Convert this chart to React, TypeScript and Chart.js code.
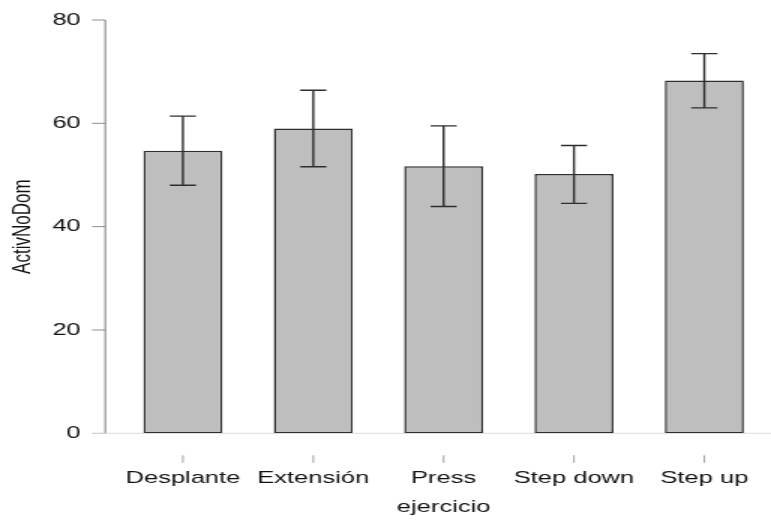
import React, { useEffect, useRef } from "react";
import { Chart, registerables } from "chart.js";

Chart.register(...registerables);

const categories: string[] = ["Desplante", "Extensión", "Press", "Step down", "Step up"];
const means: number[] = [54.7, 59.0, 51.7, 50.2, 68.3];
const lowerCI: number[] = [48.0, 51.6, 43.9, 44.5, 63.0];
const upperCI: number[] = [61.4, 66.4, 59.5, 55.7, 73.5];
const yTicks: number[] = [0, 20, 40, 60, 80];
const yTitle = "ActivNoDom";
const xTitle = "ejercicio";

const STRETCH = 1.5;
const CANVAS_W = Math.round(771 / STRETCH);
const CANVAS_H = 520;
const FONT = "'Liberation Sans', Arial, Helvetica, sans-serif";

const rAxesPlugin = {
  id: "rAxes",
  beforeDatasetsDraw(chart: any) {
    const { ctx, chartArea } = chart;
    const x = chart.scales.x;
    const y = chart.scales.y;
    const y0 = y.getPixelForValue(yTicks[0]);
    const yTop = y.getPixelForValue(yTicks[yTicks.length - 1]);
    const axisX = chartArea.left - 8.3;
    const tickLen = 8.9;
    ctx.save();
    // zero baseline
    ctx.strokeStyle = "#dcdcdc";
    ctx.lineWidth = 1;
    ctx.beginPath();
    ctx.moveTo(axisX - tickLen, y0);
    ctx.lineTo(chart.width, y0);
    ctx.stroke();
    // y axis line
    ctx.strokeStyle = "#8f8f8f";
    ctx.lineWidth = 1.2;
    ctx.beginPath();
    ctx.moveTo(axisX, yTop);
    ctx.lineTo(axisX, y0);
    ctx.stroke();
    // y ticks
    ctx.lineWidth = 1;
    yTicks.forEach((v) => {
      const py = y.getPixelForValue(v);
      ctx.strokeStyle = v === 0 ? "#cfcfcf" : "#8f8f8f";
      ctx.beginPath();
      ctx.moveTo(axisX - tickLen, py);
      ctx.lineTo(axisX, py);
      ctx.stroke();
    });
    // x ticks (detached)
    ctx.strokeStyle = "#a0a0a0";
    ctx.lineWidth = 1;
    categories.forEach((_, i) => {
      const px = x.getPixelForTick(i);
      ctx.beginPath();
      ctx.moveTo(px, y0 + 22);
      ctx.lineTo(px, y0 + 29.5);
      ctx.stroke();
    });
    ctx.restore();
  },
  afterDatasetsDraw(chart: any) {
    const { ctx } = chart;
    const x = chart.scales.x;
    const y = chart.scales.y;
    const capHalf = 8.7;
    ctx.save();
    ctx.strokeStyle = "#2e2e2e";
    ctx.lineWidth = 1.4;
    categories.forEach((_, i) => {
      const px = x.getPixelForValue(i);
      const pLo = y.getPixelForValue(lowerCI[i]);
      const pHi = y.getPixelForValue(upperCI[i]);
      ctx.beginPath();
      ctx.moveTo(px, pHi);
      ctx.lineTo(px, pLo);
      ctx.moveTo(px - capHalf, pHi);
      ctx.lineTo(px + capHalf, pHi);
      ctx.moveTo(px - capHalf, pLo);
      ctx.lineTo(px + capHalf, pLo);
      ctx.stroke();
    });
    ctx.restore();
  },
};

export default function App() {
  const canvasRef = useRef<HTMLCanvasElement | null>(null);

  useEffect(() => {
    if (!canvasRef.current) return;
    Chart.defaults.font.family = FONT;
    const chart = new Chart(canvasRef.current, {
      type: "bar",
      data: {
        labels: categories,
        datasets: [
          {
            data: means,
            backgroundColor: "#bebebe",
            borderColor: "#2f2f2f",
            borderWidth: 1.5,
            borderSkipped: false,
            barPercentage: 0.606,
            categoryPercentage: 1,
          },
        ],
      },
      options: {
        responsive: false,
        maintainAspectRatio: false,
        animation: false,
        devicePixelRatio: 1,
        layout: { padding: { left: 0, right: 1, top: 20, bottom: 0 } },
        plugins: { legend: { display: false }, tooltip: { enabled: false } },
        scales: {
          x: {
            type: "category",
            offset: true,
            grid: { display: false, drawTicks: false },
            border: { display: false },
            ticks: { color: "#111", font: { size: 17 }, padding: 34.5, maxRotation: 0, autoSkip: false },
            title: { display: true, text: xTitle, color: "#111", font: { size: 17 }, padding: { top: 0, bottom: 2.2 } },
            afterFit: (s: any) => {
              s.height = 86.7;
              s.paddingLeft = 0;
              s.paddingRight = 0;
            },
          },
          y: {
            min: 0,
            max: 80,
            afterBuildTicks: (s: any) => {
              s.ticks = yTicks.map((v) => ({ value: v }));
            },
            grid: { display: false, drawTicks: false },
            border: { display: false },
            ticks: { color: "#111", font: { size: 17 }, padding: 24.7 },
            title: { display: true, text: yTitle, color: "#111", font: { size: 17 }, padding: { top: 5.1, bottom: 0 } },
            afterFit: (s: any) => {
              s.width = 78.5;
              s.paddingTop = 0;
              s.paddingBottom = 0;
            },
          },
        },
      },
      plugins: [rAxesPlugin],
    });
    return () => chart.destroy();
  }, []);

  return (
    <div style={{ position: "fixed", left: 0, top: 0, width: 771, height: CANVAS_H, overflow: "hidden", background: "#fff" }}>
      <canvas
        ref={canvasRef}
        width={CANVAS_W}
        height={CANVAS_H}
        style={{
          display: "block",
          width: `${CANVAS_W}px`,
          height: `${CANVAS_H}px`,
          transform: `scaleX(${STRETCH})`,
          transformOrigin: "0 0",
        }}
      />
    </div>
  );
}
